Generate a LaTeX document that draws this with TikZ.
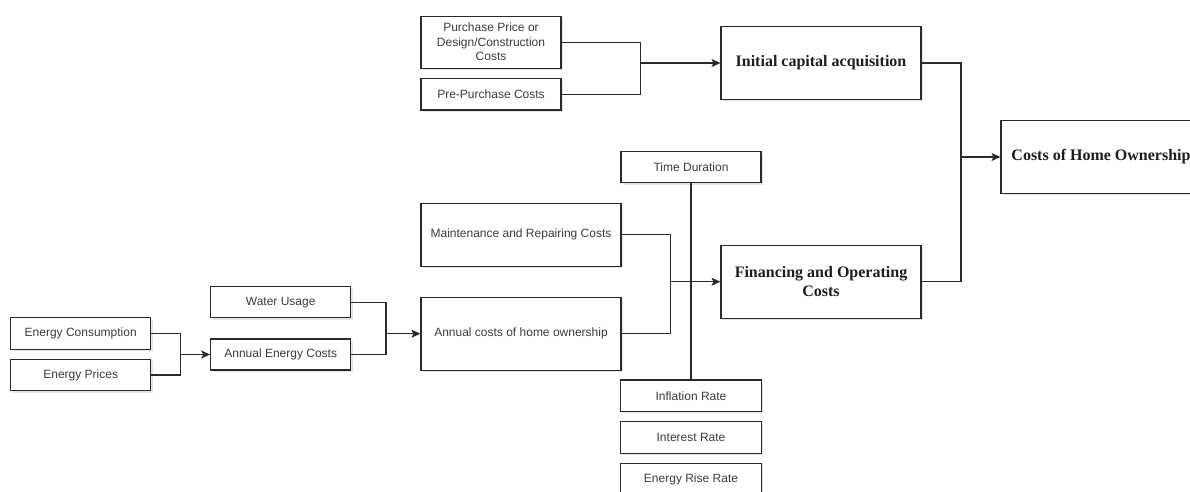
\documentclass[tikz,border=0pt]{standalone}
\usepackage{fontspec}
\setmainfont{Liberation Serif}
\newfontfamily\arialfont{Liberation Sans}
\usetikzlibrary{arrows.meta,shadows}
\definecolor{boxline}{HTML}{2A2A2A}
\definecolor{smalltext}{HTML}{3C3C3C}
\definecolor{bigtext}{HTML}{1E1E1E}
\tikzset{
  box/.style={draw=boxline, line width=1.1pt, fill=white, rectangle, inner sep=0pt, align=center,
    drop shadow={shadow xshift=1.8pt, shadow yshift=-1.8pt, opacity=0.22}},
  smallbox/.style={box, font=\arialfont\fontsize{12}{14.5}\selectfont, text=smalltext},
  bigbox/.style={box, font=\bfseries\fontsize{16}{19}\selectfont, text=bigtext},
  link/.style={draw=boxline, line width=1.1pt},
  arrowlink/.style={link, -{Stealth[length=9pt,width=8pt,inset=2pt]}}
}
\begin{document}
\begin{tikzpicture}[x=1pt,y=-1pt]
\useasboundingbox (0,0) rectangle (1190,492);
\begin{scope}
\clip (0,0) rectangle (1190,492);
% upper group
\node[smallbox, minimum width=140pt, minimum height=52pt] (pp) at (491,42.2) {Purchase Price or\\Design/Construction\\Costs};
\node[smallbox, minimum width=140pt, minimum height=31.5pt] (pre) at (491,94.3) {Pre-Purchase Costs};
\node[bigbox, minimum width=200pt, minimum height=72.6pt] (init) at (821,63) {Initial capital acquisition};
\node[bigbox, minimum width=200pt, minimum height=72.6pt] (cho) at (1101,157) {Costs of Home Ownership};
\node[bigbox, minimum width=200pt, minimum height=73.3pt] (fin) at (821,281.7) {Financing and Operating\\Costs};
% middle group
\node[smallbox, minimum width=140pt, minimum height=31pt] (td) at (691,167.2) {Time Duration};
\node[smallbox, minimum width=200pt, minimum height=62.7pt] (mr) at (521,234.7) {Maintenance and Repairing Costs};
\node[smallbox, minimum width=200pt, minimum height=72.7pt] (ac) at (521,333.7) {Annual costs of home ownership};
% left group
\node[smallbox, minimum width=140pt, minimum height=31pt] (wu) at (280.7,302.2) {Water Usage};
\node[smallbox, minimum width=140pt, minimum height=31pt] (aec) at (280.7,354.5) {Annual Energy Costs};
\node[smallbox, minimum width=140pt, minimum height=31.6pt] (ec) at (80.7,333.5) {Energy Consumption};
\node[smallbox, minimum width=140pt, minimum height=31.4pt] (ep) at (80.7,375) {Energy Prices};
% rates
\node[smallbox, minimum width=141pt, minimum height=31.7pt] (inf) at (691,395.8) {Inflation Rate};
\node[smallbox, minimum width=141pt, minimum height=31.6pt] (int) at (691,437.5) {Interest Rate};
\node[smallbox, minimum width=141pt, minimum height=31.5pt] (err) at (691,479) {Energy Rise Rate};
% junctions
\coordinate (j1) at (640.7,63);
\coordinate (j2) at (961,157);
\coordinate (j3) at (670.7,281.7);
\coordinate (j4) at (386,333.7);
\coordinate (j5) at (180.7,354.5);
% connectors
\draw[link] (pp.east) -| (j1);
\draw[link] (pre.east) -| (j1);
\draw[arrowlink] (j1) -- (init.west);
\draw[link] (init.east) -| (j2);
\draw[link] (fin.east) -| (j2);
\draw[arrowlink] (j2) -- (cho.west);
\draw[link] (mr.east) -| (j3);
\draw[link] (ac.east) -| (j3);
\draw[arrowlink] (j3) -- (fin.west);
\draw[link] (td.south) -- (inf.north);
\draw[link] (wu.east) -| (j4);
\draw[link] (aec.east) -| (j4);
\draw[arrowlink] (j4) -- (ac.west);
\draw[link] (ec.east) -| (j5);
\draw[link] (ep.east) -| (j5);
\draw[arrowlink] (j5) -- (aec.west);
\end{scope}
\end{tikzpicture}
\end{document}
